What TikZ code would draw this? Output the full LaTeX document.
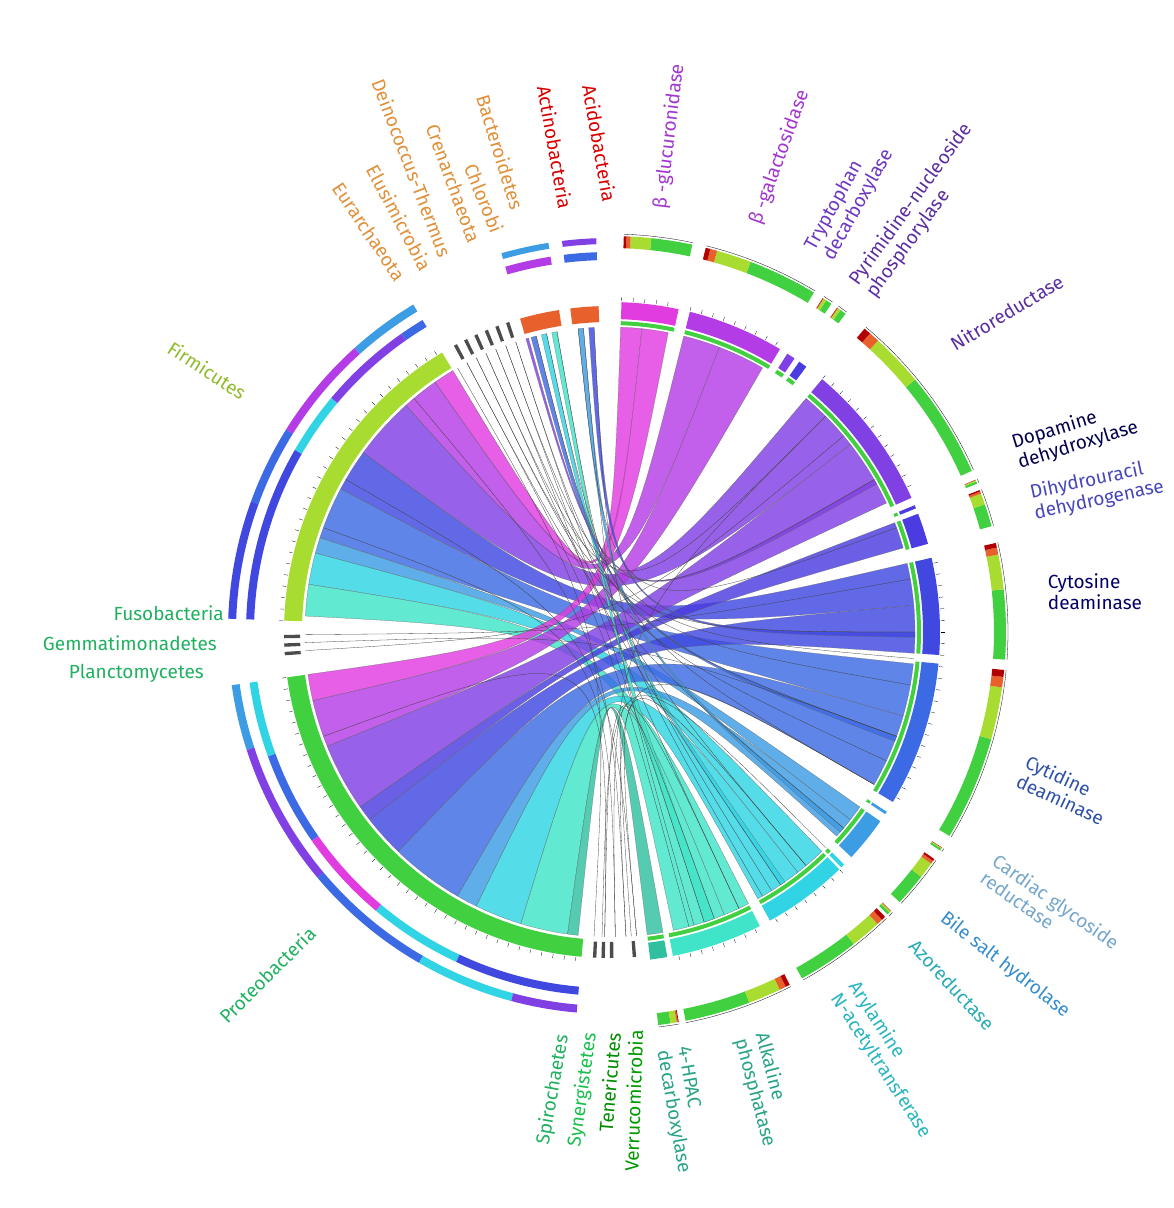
\documentclass[tikz,border=0pt]{standalone}
\usepackage{fontspec}
\setmainfont{Fira Sans}
\usetikzlibrary{positioning}
\definecolor{cGluc}{HTML}{E03CE0}
\definecolor{cGal}{HTML}{B43CE6}
\definecolor{cNitro}{HTML}{8040E4}
\definecolor{cDihyd}{HTML}{4A3CE0}
\definecolor{cCytos}{HTML}{4048E0}
\definecolor{cCytid}{HTML}{3C6AE4}
\definecolor{cBile}{HTML}{3C9CE4}
\definecolor{cAryl}{HTML}{30D4E4}
\definecolor{cAlk}{HTML}{40E4C8}
\definecolor{cHpac}{HTML}{30C0A0}
\definecolor{cFirm}{HTML}{A8DC30}
\definecolor{cProt}{HTML}{40D040}
\definecolor{cActi}{HTML}{E8602C}
\definecolor{cOrng}{HTML}{E0903A}
\definecolor{cGrn}{HTML}{20B060}
\def\R{305}
\tikzset{
  rib/.style    = {fill opacity=.82, draw=black!60, line width=.2pt},
  lbl/.style    = {font=\fontsize{19}{21}\selectfont, inner sep=1pt},
  lbl2/.style   = {lbl, align=left},
  thin chord/.style = {draw=black!75, line width=.3pt}
}
% ribbon: enzyme arc (hi,lo) to taxon arc (hi,lo)
\newcommand{\ribbon}[5]{\fill[rib,fill=#5] (#1:\R) arc[start angle=#1,end angle=#2,radius=\R]
  .. controls (0,0) .. (#3:\R) arc[start angle=#3,end angle=#4,radius=\R] .. controls (0,0) .. cycle;}
% ring segment
\newcommand{\seg}[5]{\fill[#5] (#1:#3) arc[start angle=#1,end angle=#2,radius=#3]
  -- (#2:#4) arc[start angle=#2,end angle=#1,radius=#4] -- cycle;}
% stacked percent bar
\newcommand{\pbar}[2]{%
  \pgfmathsetmacro\pa{#1+(#2-#1)*.6}\pgfmathsetmacro\pb{#1+(#2-#1)*.9}\pgfmathsetmacro\pc{#1+(#2-#1)*.96}%
  \seg{#1}{\pa}{384}{396}{cProt}\seg{\pa}{\pb}{384}{396}{cFirm}%
  \seg{\pb}{\pc}{384}{396}{cActi}\seg{\pc}{#2}{384}{396}{red!70!black}%
  \draw[line width=.3pt] (#1:398) arc[start angle=#1,end angle=#2,radius=398];}

\begin{document}
\begin{tikzpicture}[x=1pt,y=1pt]
\useasboundingbox (-610,-576) rectangle (564,632);

% taxa rings
\seg{121}{178}{308}{326}{cFirm}
\seg{188}{265}{308}{326}{cProt}
\seg{99}{106}{310}{326}{cActi}
\seg{92}{97}{310}{326}{cActi}
\foreach \a in {108,110,112,114,116,118,180.5,182,183.5,267,268.5,270,274}
  \seg{\a}{\a+.6}{310}{326}{black!70};
\foreach \a in {122,124,...,178,188,190,...,264}
  \draw[line width=.3pt] (\a:327) -- (\a:331);

% taxa outer rings
\seg{121}{125}{356}{364}{cCytid}\seg{125}{140}{356}{364}{cNitro}
\seg{140}{150}{356}{364}{cAryl}\seg{150}{178}{356}{364}{cCytos}
\seg{121}{132}{374}{382}{cBile}\seg{132}{148}{374}{382}{cGal}
\seg{148}{160}{374}{382}{cCytid}\seg{160}{178}{374}{382}{cCytos}
\seg{188}{200}{356}{364}{cAryl}\seg{200}{215}{356}{364}{cCytid}
\seg{215}{230}{356}{364}{cGluc}\seg{230}{245}{356}{364}{cAryl}
\seg{245}{265}{356}{364}{cCytos}
\seg{188}{198}{374}{382}{cBile}\seg{198}{220}{374}{382}{cNitro}
\seg{220}{240}{374}{382}{cCytid}\seg{240}{255}{374}{382}{cAryl}
\seg{255}{265}{374}{382}{cNitro}
\seg{99}{106}{372}{380}{cGal}\seg{92}{97}{372}{380}{cCytid}
\seg{99}{106}{388}{394}{cBile}\seg{92}{97}{388}{394}{cNitro}

% enzyme rings
\foreach \lo/\hi/\c in {78/88/cGluc, 59/76/cGal, 56/57.5/cNitro, 53.5/55/cDihyd,
    24/50/cNitro, 22/22.6/cDihyd, 15.5/21/cDihyd, -4/13/cCytos, -31/-5.5/cCytid,
    -33.5/-33/cBile, -43/-35/cBile, -45.5/-44.8/cAryl, -61/-46/cAryl,
    -79/-63/cAlk, -83/-80/cHpac}{
  \seg{\lo}{\hi}{307}{311}{cProt}
  \seg{\lo}{\hi}{313}{330}{\c}
  \pbar{\lo}{\hi}
}
\foreach \a in {60,62,...,76,80,82,...,88,26,28,...,50,-4,-2,...,12,-30,-28,...,-6,-60,-58,...,-46,-78,-76,...,-64}
  \draw[line width=.3pt] (\a:331) -- (\a:335);

% ribbons to Firmicutes
\ribbon{88}{84}{125}{121}{cGluc}
\ribbon{76}{69}{132}{125}{cGal}
\ribbon{50}{38}{144}{132}{cNitro}
\ribbon{13}{5}{152}{144}{cCytos}
\ribbon{-6}{-16}{162}{152}{cCytid}
\ribbon{-35}{-38}{165}{162}{cBile}
\ribbon{-46}{-52}{171}{165}{cAryl}
\ribbon{-63}{-68}{177}{171}{cAlk}
% ribbons to Proteobacteria
\ribbon{84}{79}{193}{188}{cGluc}
\ribbon{69}{60}{202}{193}{cGal}
\ribbon{38}{25}{215}{202}{cNitro}
\ribbon{21}{16}{218}{215}{cDihyd}
\ribbon{5}{-4}{226}{218}{cCytos}
\ribbon{-16}{-30}{240}{226}{cCytid}
\ribbon{-38}{-42}{244}{240}{cBile}
\ribbon{-52}{-61}{253}{244}{cAryl}
\ribbon{-68}{-78}{262}{253}{cAlk}
\ribbon{-80}{-83}{264}{262}{cHpac}
% ribbons from Actinobacteria / Acidobacteria
\ribbon{-70}{-72}{101}{100}{cAlk}
\ribbon{-55}{-56}{103}{102}{cAryl}
\ribbon{-20}{-21}{105}{104}{cCytid}
\ribbon{-40}{-41}{96}{95}{cBile}
\ribbon{0}{-1}{94}{93}{cCytos}
\ribbon{30}{29}{106}{105.5}{cNitro}

% thin chords
\foreach \a/\b in {108/-20, 108/-50, 110/-65, 110/30, 112/-10, 112/-72, 114/45, 114/-56,
    116/-25, 116/0, 118/-40, 118/-75, 100/-60, 102/-30, 104/-5, 93/-58, 95/-74, 96/20,
    -85/150, -85/-50, -87/130, -87/-30, -89/160, -89/45, -91/200, -91/-65,
    180.5/10, 182/-20, 183.5/40, 267/120, 268.5/-45, 274/-70}
  \draw[thin chord] (\a:\R) .. controls (0,0) .. (\b:\R);

% taxa labels
\node[lbl, text=cFirm!85!black, rotate=-33, anchor=east] (firm) at (147:435) {Firmicutes};
\node[lbl, text=cGrn, rotate=45, anchor=east] (prot) at (225:420) {Proteobacteria};
\node[lbl, text=cGrn, anchor=east] (fuso) at (-385,19) {Fusobacteria};
\node[lbl, text=cGrn, anchor=east] (gemm) at (-392,-11) {Gemmatimonadetes};
\node[lbl, text=cGrn, anchor=east] (plan) at (-405,-41) {Planctomycetes};
\node[lbl, text=red!85!black, rotate=-80, anchor=east] (acid) at (0,429) {Acidobacteria};
\node[lbl, text=red!85!black, rotate=-80, anchor=east] (acti) at (-44,422) {Actinobacteria};
\node[lbl, text=cOrng, rotate=-73, anchor=east] (bact) at (-92,422) {Bacteroidetes};
\node[lbl, text=cOrng, rotate=-68, anchor=east] (chlo) at (-112,399) {Chlorobi};
\node[lbl, text=cOrng, rotate=-70, anchor=east] (cren) at (-135,389) {Crenarchaeota};
\node[lbl, text=cOrng, rotate=-69, anchor=east] (dein) at (-164,375) {Deinococcus-Thermus};
\node[lbl, text=cOrng, rotate=-62, anchor=east] (elus) at (-183,362) {Elusimicrobia};
\node[lbl, text=cOrng, rotate=-56, anchor=east] (eury) at (-208,352) {Eurarchaeota};
\node[lbl, text=cGrn, rotate=80, anchor=east] (spir) at (-47,-402) {Spirochaetes};
\node[lbl, text=cGrn!80!green, rotate=82, anchor=east] (syne) at (-19,-400) {Synergistetes};
\node[lbl, text=green!55!black, rotate=85, anchor=east] (tene) at (4,-400) {Tenericutes};
\node[lbl, text=green!60!black, rotate=88, anchor=east] (verr) at (26,-397) {Verrucomicrobia};

% enzyme labels
\node[lbl, text=cGal!90!black, rotate=83, anchor=west] (gluc) at (83.2:425) {β -glucuronidase};
\node[lbl, text=cGal!90!black, rotate=70, anchor=west] (gal) at (70.4:432) {β -galactosidase};
\node[lbl2, text=cNitro!85!black, rotate=61] (tryp) at (61:494) {Tryptophan\\decarboxylase};
\node[lbl2, text=cNitro!70!black, rotate=54] (pyri) at (53.7:523) {Pyrimidine-nucleoside\\phosphorylase};
\node[lbl, text=cNitro!70!black, rotate=31, anchor=west] (nitr) at (40:445) {Nitroreductase};
\node[lbl2, text=blue!30!black, rotate=17] (dopa) at (465,197) {Dopamine\\dehydroxylase};
\node[lbl2, text=blue!45!gray, rotate=12] (dihy) at (487,142) {Dihydrouracil\\dehydrogenase};
\node[lbl2, text=blue!40!black] (cyto) at (485,40) {Cytosine\\deaminase};
\node[lbl2, text=cCytid!75!black, rotate=-25] (cyti) at (455,-158) {Cytidine\\deaminase};
\node[lbl2, text=cBile!60!white!85!black, rotate=-35] (card) at (440,-278) {Cardiac glycoside\\reductase};
\node[lbl, text=cBile!90!black, rotate=-38] (bile) at (395,-333) {Bile salt hydrolase};
\node[lbl, text=cAryl!80!black, rotate=-47] (azor) at (342,-353) {Azoreductase};
\node[lbl2, text=cAryl!85!black, rotate=-57] (aryl) at (280,-428) {Arylamine\\N-acetyltransferase};
\node[lbl2, text=cHpac!85!black, rotate=-75] (alka) at (155,-458) {Alkaline\\phosphatase};
\node[lbl2, text=cHpac!85!black, rotate=-80] (hpac) at (73,-478) {4-HPAC\\decarboxylase};
\end{tikzpicture}
\end{document}
